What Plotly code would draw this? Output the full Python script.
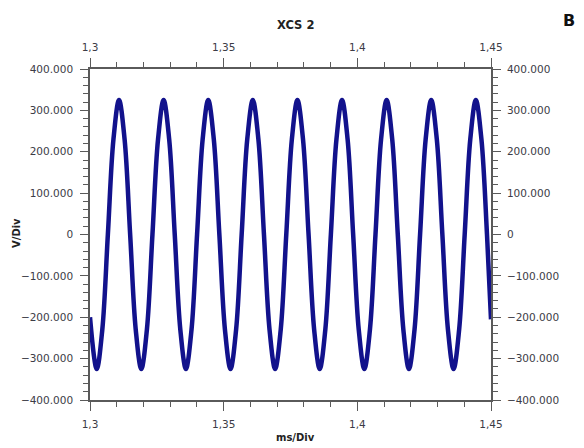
import plotly.graph_objects as go

# Samples (time in ms/Div units, voltage)
times = [1.3000,
         1.30251, 1.30460, 1.30668, 1.30877, 1.31085, 1.31294, 1.31502, 1.31711,
         1.31919, 1.32128, 1.32336, 1.32545, 1.32753, 1.32962, 1.33170, 1.33379,
         1.33588, 1.33797, 1.34005, 1.34214, 1.34422, 1.34631, 1.34839, 1.35048,
         1.35256, 1.35465, 1.35673, 1.35882, 1.36090, 1.36299, 1.36507, 1.36716,
         1.36925, 1.37134, 1.37342, 1.37551, 1.37759, 1.37968, 1.38176, 1.38385,
         1.38593, 1.38802, 1.39010, 1.39219, 1.39427, 1.39636, 1.39844, 1.40053,
         1.40262, 1.40471, 1.40679, 1.40888, 1.41096, 1.41305, 1.41513, 1.41722,
         1.41930, 1.42139, 1.42347, 1.42556, 1.42764, 1.42973, 1.43181, 1.43390,
         1.43599, 1.43808, 1.44016, 1.44225, 1.44433, 1.44642, 1.44850,
         1.4500]
volts = [-200,
         -325, -230, 0, 230, 325, 230, 0, -230,
         -325, -230, 0, 230, 325, 230, 0, -230,
         -325, -230, 0, 230, 325, 230, 0, -230,
         -325, -230, 0, 230, 325, 230, 0, -230,
         -325, -230, 0, 230, 325, 230, 0, -230,
         -325, -230, 0, 230, 325, 230, 0, -230,
         -325, -230, 0, 230, 325, 230, 0, -230,
         -325, -230, 0, 230, 325, 230, 0, -230,
         -325, -230, 0, 230, 325, 230, 0,
         -205]

x_tickvals = [1.3, 1.35, 1.4, 1.45]
x_ticktext = ["1,3", "1,35", "1,4", "1,45"]
y_tickvals = [400, 300, 200, 100, 0, -100, -200, -300, -400]
y_ticktext = ["400.000", "300.000", "200.000", "100.000", "0",
              "\u2212100.000", "\u2212200.000", "\u2212300.000", "\u2212400.000"]

title_text = "XCS 2"
panel_label = "B"
x_title = "ms/Div"
y_title = "V/Div"

AX = "#5a5a5a"
TXT = "#3c3c46"
FONT = "DejaVu Sans"

fig = go.Figure()
fig.add_trace(go.Scatter(x=times, y=volts, mode="lines",
                         line=dict(color="#12128c", width=4.5, shape="spline", smoothing=1),
                         showlegend=False, hoverinfo="skip"))
# same data bound to the mirrored (top/right) axes so they are drawn; transparent
fig.add_trace(go.Scatter(x=times, y=volts, mode="lines", xaxis="x2", yaxis="y2",
                         line=dict(color="rgba(0,0,0,0)", width=1),
                         showlegend=False, hoverinfo="skip"))

common_x = dict(range=[1.3, 1.45], tickmode="array", tickvals=x_tickvals, ticktext=x_ticktext,
                ticks="outside", ticklen=9, tickwidth=1.3, tickcolor=AX,
                showline=True, linecolor=AX, linewidth=1.6, showgrid=False, zeroline=False,
                automargin=False,
                tickfont=dict(family=FONT, size=10.5, color=TXT),
                minor=dict(tickmode="linear", ticks="outside", ticklen=5, tickwidth=1.2, tickcolor=AX,
                           tick0=1.3, dtick=0.01, showgrid=False))
common_y = dict(range=[-400, 400], tickmode="array", tickvals=y_tickvals, ticktext=y_ticktext,
                ticks="outside", ticklen=8, tickwidth=1.3, tickcolor=AX,
                showline=True, linecolor=AX, linewidth=1.6, showgrid=False, zeroline=False,
                automargin=False,
                tickfont=dict(family=FONT, size=10.5, color=TXT),
                minor=dict(tickmode="linear", ticks="outside", ticklen=5, tickwidth=1.2, tickcolor=AX,
                           tick0=0, dtick=20, showgrid=False))

fig.update_layout(
    width=584, height=448,
    margin=dict(l=90, r=93, t=69, b=48),
    paper_bgcolor="white", plot_bgcolor="white",
    xaxis=dict(**common_x, side="bottom", ticklabelstandoff=5),
    xaxis2=dict(**common_x, side="top", overlaying="x", anchor="y", ticklabelstandoff=3),
    yaxis=dict(**common_y, side="left", ticklabelstandoff=5),
    yaxis2=dict(**common_y, side="right", overlaying="y", anchor="x", ticklabelstandoff=4),
    annotations=[
        dict(text="<b>" + title_text + "</b>", x=295, y=448 - 25, xref="paper", yref="paper",
             showarrow=False, font=dict(family=FONT, size=11.5, color="#222")),
        dict(text="<b>" + panel_label + "</b>", x=569, y=448 - 20, xref="paper", yref="paper",
             showarrow=False, font=dict(family=FONT, size=16, color="#111")),
        dict(text="<b>" + x_title + "</b>", x=295, y=448 - 437, xref="paper", yref="paper",
             showarrow=False, font=dict(family=FONT, size=10, color="#222")),
        dict(text="<b>" + y_title + "</b>", x=16, y=448 - 233, xref="paper", yref="paper",
             showarrow=False, textangle=-90, font=dict(family=FONT, size=10, color="#222")),
    ],
)

# convert pixel annotation positions to paper coordinates, centered anchors
pw, ph = 584 - 90 - 93, 448 - 69 - 48
for a in fig.layout.annotations:
    a.x = (a.x - 90) / pw
    a.y = (a.y - 48) / ph
    a.xanchor = "center"
    a.yanchor = "middle"

fig.write_html("out.html", config={"displayModeBar": False},
               post_script="document.body.style.margin='0';")
